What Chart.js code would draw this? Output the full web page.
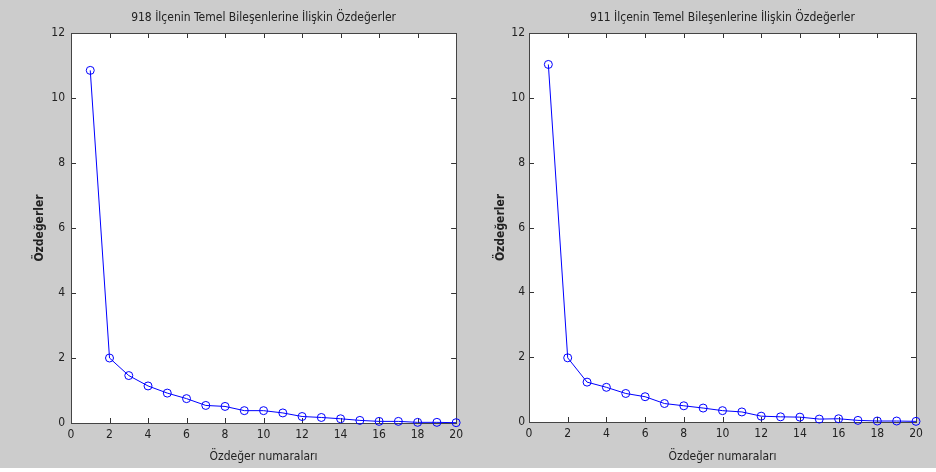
<!DOCTYPE html>
<html>
<head>
<meta charset="utf-8">
<script src="https://cdn.jsdelivr.net/npm/chart.js@4.4.1/dist/chart.umd.min.js"></script>
<style>
  body { margin: 0; background: #fff; }
  #page { position: relative; width: 936px; height: 468px; background: #cccccc; }
  .box { position: absolute; top: 0; width: 468px; height: 468px; }
</style>
</head>
<body>
<div id="page">
  <div class="box" style="left:0"><canvas id="left"></canvas></div>
  <div class="box" style="left:468px"><canvas id="right"></canvas></div>
</div>
<script>
// eigenvalue index
const indices = [1, 2, 3, 4, 5, 6, 7, 8, 9, 10, 11, 12, 13, 14, 15, 16, 17, 18, 19, 20];
// 918 districts
const ilce918 = [10.85, 2.0, 1.46, 1.14, 0.92, 0.75, 0.54, 0.51, 0.38, 0.38, 0.31, 0.20, 0.17, 0.13, 0.08, 0.05, 0.05, 0.02, 0.02, 0.01];
// 911 districts
const ilce911 = [11.03, 1.98, 1.23, 1.07, 0.88, 0.78, 0.57, 0.50, 0.43, 0.35, 0.31, 0.18, 0.16, 0.15, 0.09, 0.10, 0.05, 0.03, 0.03, 0.02];

const titles = ['918 İlçenin Temel Bileşenlerine İlişkin Özdeğerler', '911 İlçenin Temel Bileşenlerine İlişkin Özdeğerler'];
const xTitle = 'Özdeğer numaraları';
const yTitle = 'Özdeğerler';

Chart.defaults.font.family = "'Liberation Sans Narrow', 'DejaVu Sans Condensed', 'Liberation Sans', Arial, sans-serif";
Chart.defaults.font.size = 12;
Chart.defaults.color = '#222';

// white plot area, black box and inward ticks, matlab style
const matlabBox = {
    id: 'matlabBox',
    beforeDatasetsDraw(chart) {
        const { ctx, chartArea: a, scales } = chart;
        ctx.save();
        ctx.fillStyle = '#fff';
        ctx.fillRect(a.left, a.top, a.right - a.left, a.bottom - a.top);
        ctx.strokeStyle = '#333';
        ctx.lineWidth = 1;
        ctx.beginPath();
        scales.x.ticks.forEach(t => {
            const x = Math.round(scales.x.getPixelForValue(t.value)) + 0.5;
            ctx.moveTo(x, a.bottom); ctx.lineTo(x, a.bottom - 5);
            ctx.moveTo(x, a.top); ctx.lineTo(x, a.top + 5);
        });
        scales.y.ticks.forEach(t => {
            const y = Math.round(scales.y.getPixelForValue(t.value)) + 0.5;
            ctx.moveTo(a.left, y); ctx.lineTo(a.left + 5, y);
            ctx.moveTo(a.right, y); ctx.lineTo(a.right - 5, y);
        });
        ctx.stroke();
        ctx.strokeStyle = '#444';
        ctx.strokeRect(Math.round(a.left) + 0.5, Math.round(a.top) + 0.5, Math.round(a.right - a.left), Math.round(a.bottom - a.top));
        ctx.restore();
    }
};

function makeChart(id, values, title, opts) {
    return new Chart(document.getElementById(id), {
        type: 'line',
        data: {
            datasets: [{
                data: indices.map((x, i) => ({ x: x, y: values[i] })),
                borderColor: '#0000ff',
                borderWidth: 1,
                backgroundColor: 'rgba(0,0,0,0)',
                pointStyle: 'circle',
                pointRadius: 4,
                pointBorderColor: '#0000ff',
                pointBorderWidth: 1,
                pointBackgroundColor: 'rgba(0,0,0,0)',
                tension: 0,
                clip: false
            }]
        },
        options: {
            responsive: true,
            maintainAspectRatio: false,
            animation: false,
            events: [],
            layout: { padding: { left: 0, right: opts.padRight, top: 0, bottom: 0 } },
            plugins: {
                legend: { display: false },
                tooltip: { enabled: false },
                title: {
                    display: true,
                    text: title,
                    fullSize: false,
                    font: { size: 12, weight: 'normal', lineHeight: 1.2 },
                    color: '#222',
                    padding: { top: 10.8, bottom: 7.8 }
                }
            },
            scales: {
                x: {
                    type: 'linear',
                    min: 0,
                    max: 20,
                    grid: { display: false, drawTicks: false },
                    border: { display: false },
                    ticks: { stepSize: 2, autoSkip: false, maxRotation: 0, padding: 5 },
                    title: { display: true, text: xTitle, padding: { top: 0, bottom: 4 } },
                    afterFit(scale) { scale.height = opts.xHeight; }
                },
                y: {
                    type: 'linear',
                    min: 0,
                    max: 12,
                    grid: { display: false, drawTicks: false },
                    border: { display: false },
                    ticks: { stepSize: 2, padding: opts.yTickPad },
                    title: { display: true, text: yTitle, font: { weight: 'bold' }, padding: { top: opts.yTitlePad, bottom: 0 } },
                    afterFit(scale) { scale.width = opts.yWidth; }
                }
            }
        },
        plugins: [matlabBox]
    });
}

makeChart('left', ilce918, titles[0], { padRight: 11, xHeight: 45, yWidth: 71, yTickPad: 6, yTitlePad: 33 });
makeChart('right', ilce911, titles[1], { padRight: 20, xHeight: 46, yWidth: 61, yTickPad: 4, yTitlePad: 26 });
</script>
</body>
</html>
